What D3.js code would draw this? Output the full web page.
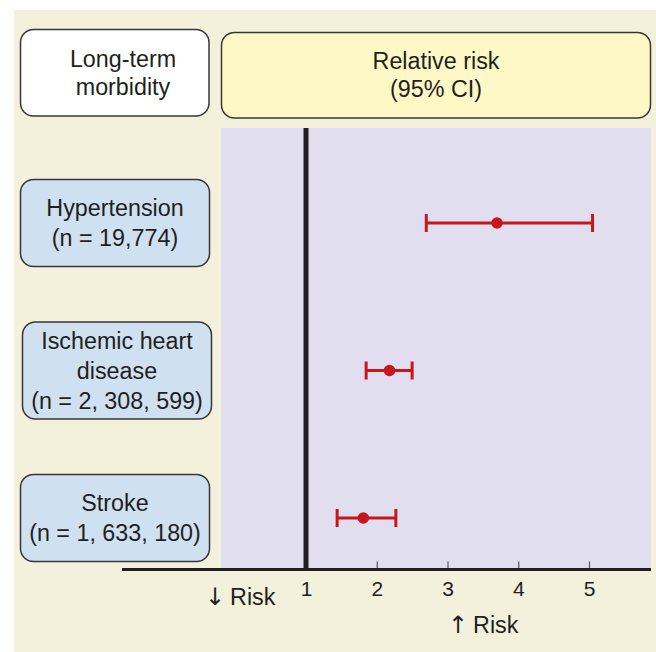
<!DOCTYPE html>
<html>
<head>
<meta charset="utf-8">
<script src="https://cdn.jsdelivr.net/npm/d3@7"></script>
<style>
  html, body { margin: 0; padding: 0; background: #ffffff; }
  svg { display: block; }
  text { font-family: "Liberation Sans", Arial, Helvetica, sans-serif; fill: #231f20; }
</style>
</head>
<body>
<svg id="chart" width="656" height="652"></svg>
<script>
// ---- data ----
const categories = ["Hypertension", "Ischemic heart disease", "Stroke"];
const categoryLabels = [
  ["Hypertension", "(n = 19,774)"],
  ["Ischemic heart", "disease", "(n = 2, 308, 599)"],
  ["Stroke", "(n = 1, 633, 180)"]
];
const relativeRisk = [3.70, 2.18, 1.81];
const ciLower = [2.70, 1.85, 1.44];
const ciUpper = [5.05, 2.50, 2.27];
const tickValues = [1, 2, 3, 4, 5];
const headerLeft = ["Long-term", "morbidity"];
const headerRight = ["Relative risk", "(95% CI)"];
const lowerArrow = "\u2193", higherArrow = "\u2191", riskWord = "Risk";

// ---- layout ----
const svg = d3.select("#chart");
const C = {
  cream: "#f3f1dc", lavender: "#e0deef", yellow: "#fdf8c6", blue: "#cfe0f1",
  red: "#c8161d", ink: "#231f20", border: "#3a3638"
};
const plot = { left: 221, right: 651, top: 128, bottom: 569.5 };
const axisStart = 122;

const x = d3.scaleLinear().domain([1, 5]).range([306, 589]);
const y = d3.scalePoint().domain(categories).range([223, 518]);

// background
svg.append("rect").attr("x", 14).attr("y", 10).attr("width", 642).attr("height", 642).attr("fill", C.cream);
svg.append("rect").attr("x", plot.left).attr("y", plot.top)
  .attr("width", plot.right - plot.left).attr("height", plot.bottom - plot.top).attr("fill", C.lavender);

function box(x0, y0, w, h, fill) {
  svg.append("rect").attr("x", x0).attr("y", y0).attr("width", w).attr("height", h)
    .attr("rx", 13).attr("ry", 13).attr("fill", fill).attr("stroke", C.border).attr("stroke-width", 1.5);
}
function lines(arr, cx, cy, spacing, size) {
  const first = cy - (arr.length - 1) * spacing / 2 + size * 0.36;
  const t = svg.append("text").attr("text-anchor", "middle").style("font-size", size + "px");
  arr.forEach((s, i) => t.append("tspan").attr("x", cx).attr("y", first + i * spacing).text(s));
}
// header boxes
box(20.5, 29.5, 188.5, 86.5, "#ffffff");
lines(headerLeft, 123, 72.5, 28, 23.3);
box(221.5, 32.5, 429, 85.5, C.yellow);
lines(headerRight, 436, 75, 28, 23.3);

// category boxes
categories.forEach((c, i) => {
  const n = categoryLabels[i].length;
  const h = 67 + 10 * n;
  const cy = y(c);
  const x0 = n > 2 ? 22.5 : 20.5;
  box(x0, cy - h / 2, 189, h, C.blue);
  lines(categoryLabels[i], x0 + 94.5, cy, 30, 23.3);
});

// axis
const axis = d3.axisBottom(x).tickValues(tickValues).tickFormat(d3.format("d"))
  .tickSizeInner(-8).tickSizeOuter(0).tickPadding(12);
const gAxis = svg.append("g").attr("transform", `translate(0,${plot.bottom})`).call(axis);
gAxis.attr("font-family", null).attr("font-size", null);
gAxis.select(".domain").remove();
gAxis.selectAll(".tick line").attr("stroke", "#5a5658").attr("stroke-width", 1.2);
gAxis.selectAll(".tick text").style("font-size", "21px").style("fill", C.ink);
svg.append("line").attr("x1", axisStart).attr("x2", plot.right)
  .attr("y1", plot.bottom).attr("y2", plot.bottom).attr("stroke", C.ink).attr("stroke-width", 3);

// reference line at RR = 1
svg.append("line").attr("x1", x(1)).attr("x2", x(1)).attr("y1", plot.top).attr("y2", plot.bottom)
  .attr("stroke", C.ink).attr("stroke-width", 5);

// error bars
const g = svg.append("g");
categories.forEach((c, i) => {
  const cy = y(c);
  g.append("line").attr("x1", x(ciLower[i])).attr("x2", x(ciUpper[i]))
    .attr("y1", cy).attr("y2", cy).attr("stroke", C.red).attr("stroke-width", 3);
  [ciLower[i], ciUpper[i]].forEach(v => {
    g.append("line").attr("x1", x(v)).attr("x2", x(v)).attr("y1", cy - 9).attr("y2", cy + 9)
      .attr("stroke", C.red).attr("stroke-width", 3);
  });
  g.append("circle").attr("cx", x(relativeRisk[i])).attr("cy", cy).attr("r", 5.8).attr("fill", C.red);
});

// risk direction labels (arrow drawn as a separate glyph, sized like the reference)
function riskLabel(arrow, xStart, baseline) {
  const t = svg.append("text").attr("x", xStart).attr("y", baseline).style("font-size", "23.3px");
  t.append("tspan").style("font-family", '"DejaVu Sans", sans-serif').style("font-size", "24px").text(arrow);
  t.append("tspan").attr("dx", 5).text(riskWord);
}
riskLabel(lowerArrow, 205, 605);
riskLabel(higherArrow, 448, 633);
</script>
</body>
</html>
